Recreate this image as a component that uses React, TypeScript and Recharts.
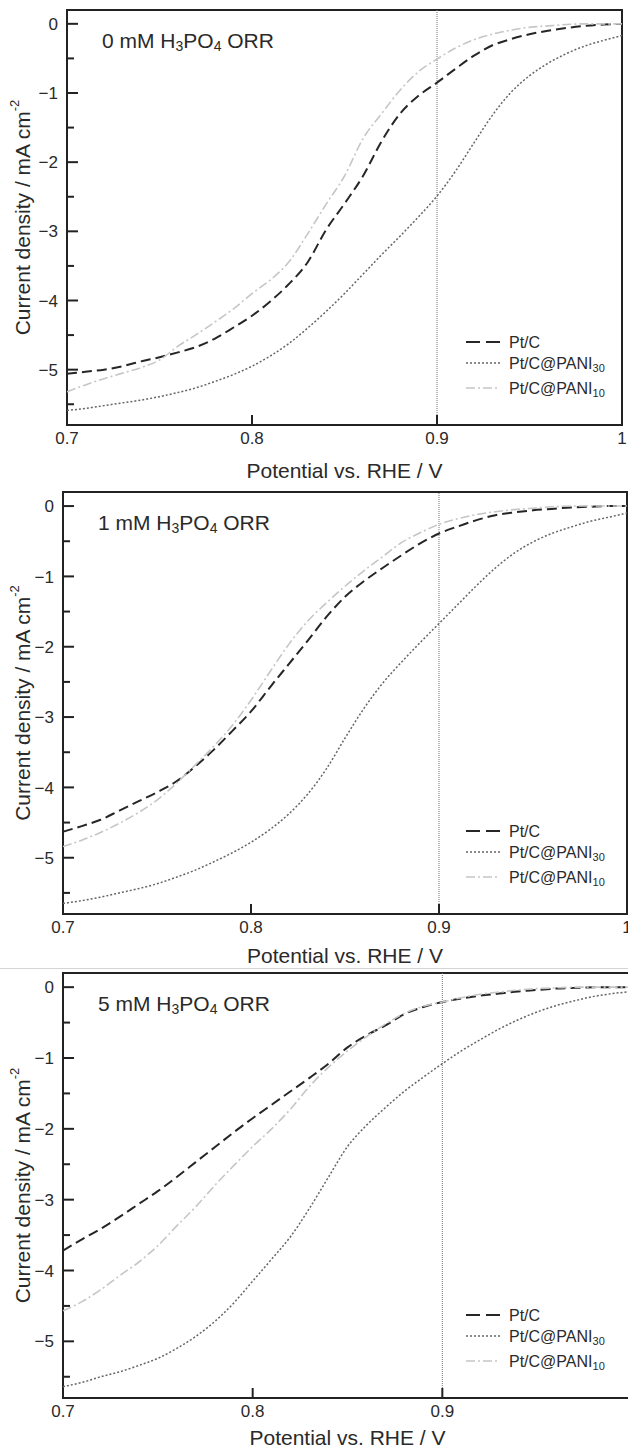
import React from "react";
import { LineChart, Line, XAxis, YAxis, ReferenceLine } from "recharts";

// ---------- data ----------
const potentialV = [
  0.7, 0.71, 0.72, 0.73, 0.74, 0.75, 0.76, 0.77, 0.78, 0.79,
  0.8, 0.81, 0.82, 0.83, 0.84, 0.85, 0.86, 0.87, 0.88, 0.89,
  0.9, 0.91, 0.92, 0.93, 0.94, 0.95, 0.96, 0.97, 0.98, 0.99, 1.0,
];

// 0 mM H3PO4
const ptc0 = [-5.06, -5.03, -5.0, -4.95, -4.88, -4.82, -4.75, -4.67, -4.55, -4.39, -4.22, -4.01, -3.76, -3.45, -2.98, -2.6, -2.2, -1.7, -1.3, -1.04, -0.85, -0.65, -0.46, -0.31, -0.22, -0.15, -0.1, -0.06, -0.03, -0.01, 0];
const pani30_0 = [-5.59, -5.56, -5.52, -5.48, -5.44, -5.39, -5.33, -5.26, -5.17, -5.07, -4.95, -4.8, -4.62, -4.4, -4.16, -3.9, -3.62, -3.34, -3.07, -2.79, -2.49, -2.13, -1.72, -1.32, -0.99, -0.75, -0.57, -0.43, -0.32, -0.24, -0.17];
const pani10_0 = [-5.32, -5.22, -5.13, -5.05, -4.97, -4.86, -4.66, -4.49, -4.31, -4.12, -3.9, -3.7, -3.44, -3.04, -2.61, -2.2, -1.66, -1.3, -0.96, -0.69, -0.51, -0.35, -0.23, -0.15, -0.09, -0.05, -0.03, -0.01, 0, 0, 0];

// 1 mM H3PO4
const ptc1 = [-4.63, -4.55, -4.46, -4.33, -4.2, -4.07, -3.92, -3.71, -3.47, -3.2, -2.92, -2.58, -2.25, -1.92, -1.58, -1.29, -1.07, -0.88, -0.7, -0.53, -0.39, -0.29, -0.2, -0.13, -0.09, -0.06, -0.04, -0.02, -0.01, 0, 0];
const pani30_1 = [-5.65, -5.61, -5.56, -5.5, -5.44, -5.37, -5.28, -5.18, -5.06, -4.93, -4.78, -4.6, -4.38, -4.1, -3.74, -3.3, -2.88, -2.52, -2.22, -1.94, -1.67, -1.4, -1.13, -0.88, -0.67, -0.51, -0.39, -0.3, -0.22, -0.16, -0.1];
const pani10_1 = [-4.84, -4.75, -4.64, -4.51, -4.36, -4.18, -3.95, -3.69, -3.42, -3.12, -2.76, -2.36, -1.97, -1.64, -1.38, -1.14, -0.92, -0.72, -0.52, -0.38, -0.26, -0.18, -0.12, -0.08, -0.05, -0.03, -0.01, 0, 0, 0, 0];

// 5 mM H3PO4
const ptc5 = [-3.72, -3.56, -3.41, -3.24, -3.06, -2.88, -2.68, -2.47, -2.26, -2.05, -1.85, -1.66, -1.47, -1.28, -1.08, -0.85, -0.68, -0.54, -0.38, -0.28, -0.21, -0.16, -0.12, -0.09, -0.06, -0.04, -0.02, -0.01, 0, 0, 0];
const pani30_5 = [-5.64, -5.58, -5.5, -5.43, -5.34, -5.24, -5.1, -4.93, -4.72, -4.46, -4.15, -3.84, -3.52, -3.12, -2.68, -2.25, -1.95, -1.7, -1.47, -1.27, -1.08, -0.9, -0.74, -0.59, -0.46, -0.35, -0.26, -0.19, -0.13, -0.09, -0.06];
const pani10_5 = [-4.57, -4.44, -4.27, -4.07, -3.88, -3.65, -3.37, -3.1, -2.8, -2.52, -2.25, -2.0, -1.72, -1.4, -1.13, -0.9, -0.7, -0.52, -0.37, -0.27, -0.21, -0.15, -0.1, -0.07, -0.04, -0.02, -0.01, 0, 0, 0, 0];

const concentrations = ["0", "1", "5"];

const xTicks = [0.7, 0.8, 0.9, 1.0];
const xTickLabels = ["0.7", "0.8", "0.9", "1"];
const yMajorTicks = [0, -1, -2, -3, -4, -5];
const yMajorLabels = ["0", "\u22121", "\u22122", "\u22123", "\u22124", "\u22125"];
const yMinorTicks = [-0.5, -1.5, -2.5, -3.5, -4.5, -5.5];
const yTicks = [...yMajorTicks, ...yMinorTicks].sort((a, b) => a - b);

const seriesNames = ["Pt/C", "Pt/C@PANI", "Pt/C@PANI"];
const seriesSubs = ["", "30", "10"];

// ---------- styles / layout ----------
const FONT = '"Liberation Sans", Arial, Helvetica, sans-serif';
const AXIS = "#222";
const TEXT = "#2a2a2a";
const PAGE_W = 628;

const lineStyles = [
  { key: "ptc", stroke: "#262626", width: 2, dash: "10 5", legendDash: "14 6" },
  { key: "p30", stroke: "#666666", width: 1.5, dash: "2 2", legendDash: "2 2" },
  { key: "p10", stroke: "#c6c6c6", width: 1.6, dash: "9 3 2 3", legendDash: "9 3 2 3" },
];

const panelLayouts = [
  { top: 0, width: 628, height: 480, marginTop: 10, marginRight: 6, yAxisWidth: 67, xAxisHeight: 55, titleOffset: 45 },
  { top: 478, width: 628, height: 492, marginTop: 14, marginRight: 1, yAxisWidth: 63, xAxisHeight: 56, titleOffset: 41 },
  { top: 960, width: 640, height: 489, marginTop: 13, marginRight: 8, yAxisWidth: 63, xAxisHeight: 51, titleOffset: 39 },
];
const legendRowOffsets = [83, 62, 37];

// ---------- ticks ----------
function isMajor(v: number) {
  return Math.abs(v - Math.round(v)) < 1e-6;
}

function LeftTick(props: any) {
  const { x, y, payload } = props;
  const v = payload.value as number;
  const major = isMajor(v);
  const idx = yMajorTicks.findIndex((t) => Math.abs(t - v) < 1e-6);
  return (
    <g>
      <line x1={x} x2={x + (major ? 11 : 7)} y1={y} y2={y} stroke={AXIS} strokeWidth={2} />
      {major && idx >= 0 && (
        <text x={x - 9} y={y} dy="0.36em" textAnchor="end" fontSize={17} fontFamily={FONT} fill={TEXT}>
          {yMajorLabels[idx]}
        </text>
      )}
    </g>
  );
}

function RightTick(props: any) {
  const { x, y, payload } = props;
  const major = isMajor(payload.value);
  return <line x1={x} x2={x - (major ? 11 : 7)} y1={y} y2={y} stroke={AXIS} strokeWidth={2} />;
}

function TopTick(props: any) {
  const { x, y } = props;
  return <line x1={x} x2={x} y1={y} y2={y + 10} stroke={AXIS} strokeWidth={2} />;
}

function BottomTick(props: any) {
  const { x, y, payload, maxLabelX } = props;
  const idx = xTicks.findIndex((t) => Math.abs(t - payload.value) < 1e-6);
  const showLabel = idx >= 0 && x - 4 < maxLabelX;
  return (
    <g>
      <line x1={x} x2={x} y1={y} y2={y - 10} stroke={AXIS} strokeWidth={2} />
      {showLabel && (
        <text x={x} y={y + 13} dy="0.36em" textAnchor="middle" fontSize={17} fontFamily={FONT} fill={TEXT}>
          {xTickLabels[idx]}
        </text>
      )}
    </g>
  );
}

// ---------- panel ----------
function Panel({ layout, conc, ptc, p30, p10 }: any) {
  const data = potentialV.map((x, i) => ({ x, ptc: ptc[i], p30: p30[i], p10: p10[i] }));
  const plotLeft = layout.yAxisWidth;
  const plotTop = layout.marginTop;
  const plotBottom = layout.height - layout.xAxisHeight;
  const plotRight = layout.width - layout.marginRight;
  const midX = (plotLeft + plotRight) / 2;
  const midY = (plotTop + plotBottom) / 2;

  return (
    <div style={{ position: "absolute", left: 0, top: layout.top, width: layout.width, height: layout.height }}>
      <LineChart
        width={layout.width}
        height={layout.height}
        data={data}
        margin={{ top: layout.marginTop, right: layout.marginRight, bottom: 0, left: 0 }}
      >
        <XAxis
          xAxisId="b"
          dataKey="x"
          type="number"
          domain={[0.7, 1.0]}
          ticks={xTicks}
          interval={0}
          allowDataOverflow
          orientation="bottom"
          height={layout.xAxisHeight}
          tickSize={0}
          tickMargin={0}
          tickLine={false}
          axisLine={false}
          tick={(p: any) => <BottomTick {...p} maxLabelX={PAGE_W} />}
        />
        <XAxis
          xAxisId="t"
          dataKey="x"
          type="number"
          domain={[0.7, 1.0]}
          ticks={xTicks}
          interval={0}
          allowDataOverflow
          orientation="top"
          height={0}
          tickSize={0}
          tickMargin={0}
          tickLine={false}
          axisLine={false}
          tick={(p: any) => <TopTick {...p} />}
        />
        <YAxis
          yAxisId="l"
          type="number"
          domain={[-5.8, 0.2]}
          ticks={yTicks}
          interval={0}
          allowDataOverflow
          orientation="left"
          width={layout.yAxisWidth}
          tickSize={0}
          tickMargin={0}
          tickLine={false}
          axisLine={false}
          tick={(p: any) => <LeftTick {...p} />}
        />
        <YAxis
          yAxisId="r"
          type="number"
          domain={[-5.8, 0.2]}
          ticks={yTicks}
          interval={0}
          allowDataOverflow
          orientation="right"
          width={0}
          tickSize={0}
          tickMargin={0}
          tickLine={false}
          axisLine={false}
          tick={(p: any) => <RightTick {...p} />}
        />
        <ReferenceLine xAxisId="b" yAxisId="l" x={0.9} stroke="#777" strokeWidth={1} strokeDasharray="1 1" />
        {/* invisible series bound to the mirror axes so they get drawn */}
        <Line
          xAxisId="t"
          yAxisId="r"
          dataKey="ptc"
          stroke="none"
          strokeWidth={0}
          dot={false}
          activeDot={false}
          legendType="none"
          isAnimationActive={false}
        />
        {lineStyles.map((s) => (
          <Line
            key={s.key}
            xAxisId="b"
            yAxisId="l"
            dataKey={s.key}
            type="monotone"
            stroke={s.stroke}
            strokeWidth={s.width}
            strokeDasharray={s.dash}
            dot={false}
            activeDot={false}
            isAnimationActive={false}
          />
        ))}

        {/* frame */}
        <rect
          x={plotLeft}
          y={plotTop}
          width={plotRight - plotLeft}
          height={plotBottom - plotTop}
          fill="none"
          stroke={AXIS}
          strokeWidth={2}
        />

        {/* annotation */}
        <text x={plotLeft + 35} y={plotTop + 30} dominantBaseline="central" fontSize={21} fontFamily={FONT} fill={TEXT}>
          {conc} mM H<tspan fontSize={14} dy={6}>3</tspan>
          <tspan dy={-6}>PO</tspan>
          <tspan fontSize={14} dy={6}>4</tspan>
          <tspan dy={-6}> ORR</tspan>
        </text>

        {/* axis titles */}
        <text
          x={midX}
          y={plotBottom + layout.titleOffset}
          textAnchor="middle"
          dominantBaseline="central"
          fontSize={21}
          fontFamily={FONT}
          fill={TEXT}
        >
          Potential vs. RHE / V
        </text>
        <text
          transform={`translate(22, ${midY}) rotate(-90)`}
          textAnchor="middle"
          dominantBaseline="central"
          fontSize={21}
          fontFamily={FONT}
          fill={TEXT}
        >
          Current density / mA cm<tspan fontSize={13} dy={-8}>-2</tspan>
        </text>

        {/* legend */}
        {lineStyles.map((s, i) => {
          const cy = plotBottom - legendRowOffsets[i];
          return (
            <g key={"lg" + s.key}>
              <line x1={466} x2={500} y1={cy} y2={cy} stroke={s.stroke} strokeWidth={s.width} strokeDasharray={s.legendDash} />
              <text x={509} y={cy} dominantBaseline="central" fontSize={16} fontFamily={FONT} fill={TEXT}>
                {seriesNames[i]}
                {seriesSubs[i] && (
                  <tspan fontSize={11} dy={5}>
                    {seriesSubs[i]}
                  </tspan>
                )}
              </text>
            </g>
          );
        })}
      </LineChart>
    </div>
  );
}

export default function App() {
  const sets = [
    [ptc0, pani30_0, pani10_0],
    [ptc1, pani30_1, pani10_1],
    [ptc5, pani30_5, pani10_5],
  ];
  return (
    <div
      style={{
        position: "absolute",
        left: 0,
        top: 0,
        width: PAGE_W,
        height: 1449,
        overflow: "hidden",
        background: "#fff",
        fontFamily: FONT,
      }}
    >
      <div style={{ position: "absolute", left: 0, top: 968, width: PAGE_W, height: 1, background: "#d4d4d4" }} />
      {sets.map((s, i) => (
        <Panel key={i} layout={panelLayouts[i]} conc={concentrations[i]} ptc={s[0]} p30={s[1]} p10={s[2]} />
      ))}
    </div>
  );
}
